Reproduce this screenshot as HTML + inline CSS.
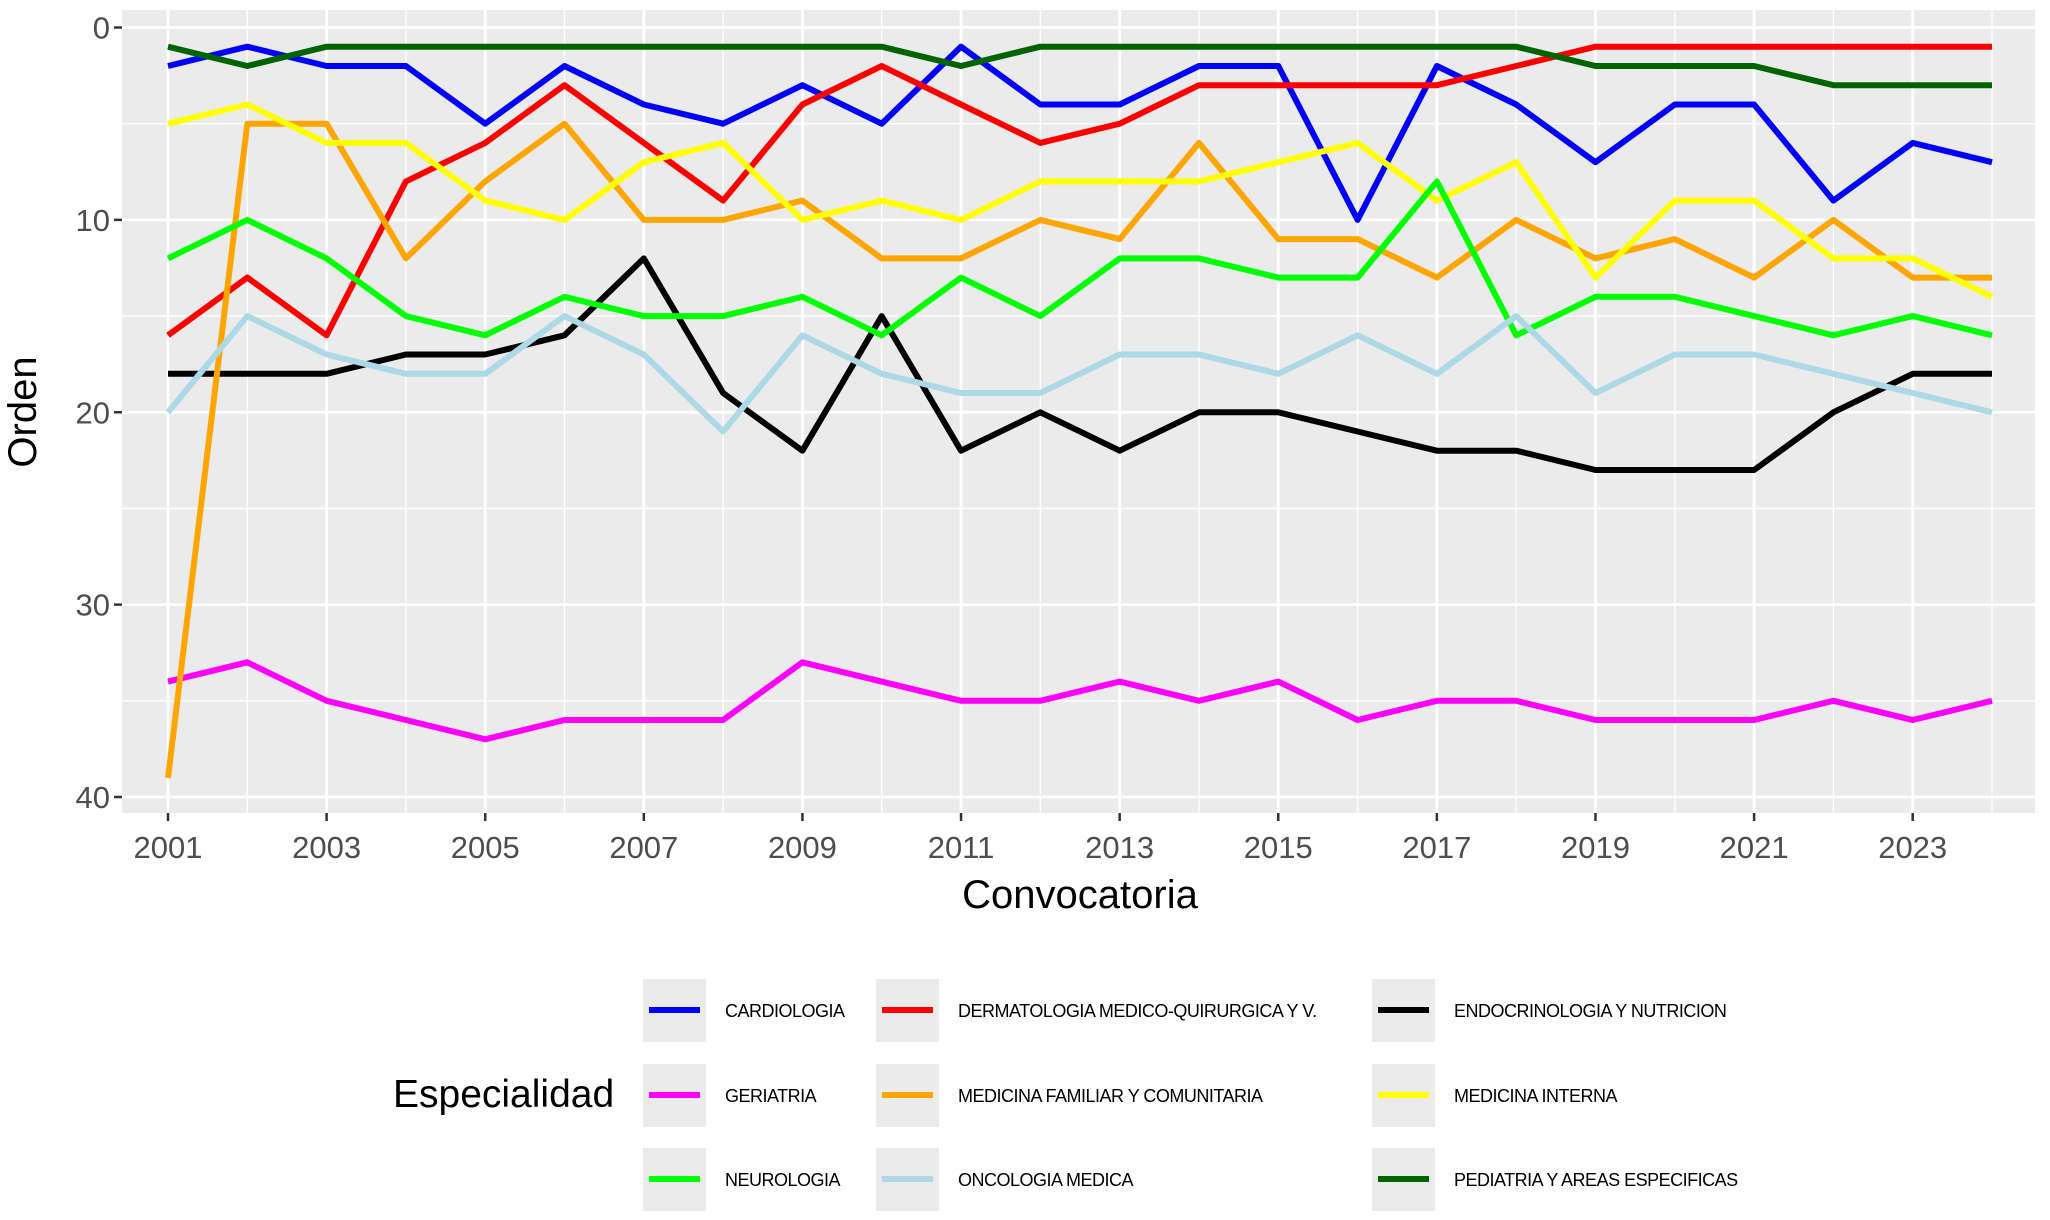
<!DOCTYPE html>
<html><head><meta charset="utf-8"><style>
body{margin:0;background:#fff;}
svg{display:block;font-family:"Liberation Sans",sans-serif;}
</style></head><body>
<svg id="chart" width="2050" height="1220" xmlns="http://www.w3.org/2000/svg">
<rect x="0" y="0" width="2050" height="1220" fill="#fff"/>
<rect x="122" y="10" width="1913" height="803" fill="#ebebeb"/>
<g id="grid"></g>
<g id="series"></g>
<g id="axes"></g>
<text x="36" y="412" transform="rotate(-90 36 412)" text-anchor="middle" font-size="40" fill="#000">Orden</text>
<text x="1080" y="908" text-anchor="middle" font-size="40" fill="#000">Convocatoria</text>
<text x="393" y="1107" font-size="39" fill="#000">Especialidad</text>
<g id="legend"></g>
</svg>
<script>
const years = [2001,2002,2003,2004,2005,2006,2007,2008,2009,2010,2011,2012,2013,2014,2015,2016,2017,2018,2019,2020,2021,2022,2023,2024];
const cardiologia = [2,1,2,2,5,2,4,5,3,5,1,4,4,2,2,10,2,4,7,4,4,9,6,7];
const dermatologia = [16,13,16,8,6,3,6,9,4,2,4,6,5,3,3,3,3,2,1,1,1,1,1,1];
const endocrinologia = [18,18,18,17,17,16,12,19,22,15,22,20,22,20,20,21,22,22,23,23,23,20,18,18];
const geriatria = [34,33,35,36,37,36,36,36,33,34,35,35,34,35,34,36,35,35,36,36,36,35,36,35];
const medFamiliar = [39,5,5,12,8,5,10,10,9,12,12,10,11,6,11,11,13,10,12,11,13,10,13,13];
const medInterna = [5,4,6,6,9,10,7,6,10,9,10,8,8,8,7,6,9,7,13,9,9,12,12,14];
const neurologia = [12,10,12,15,16,14,15,15,14,16,13,15,12,12,13,13,8,16,14,14,15,16,15,16];
const oncologia = [20,15,17,18,18,15,17,21,16,18,19,19,17,17,18,16,18,15,19,17,17,18,19,20];
const pediatria = [1,2,1,1,1,1,1,1,1,1,2,1,1,1,1,1,1,1,2,2,2,3,3,3];
const seriesNames = ["CARDIOLOGIA","DERMATOLOGIA MEDICO-QUIRURGICA Y V.","ENDOCRINOLOGIA Y NUTRICION","GERIATRIA","MEDICINA FAMILIAR Y COMUNITARIA","MEDICINA INTERNA","NEUROLOGIA","ONCOLOGIA MEDICA","PEDIATRIA Y AREAS ESPECIFICAS"];
const seriesValues = [cardiologia,dermatologia,endocrinologia,geriatria,medFamiliar,medInterna,neurologia,oncologia,pediatria];
const yTicks = [0,10,20,30,40];
const xTicks = [2001,2003,2005,2007,2009,2011,2013,2015,2017,2019,2021,2023];

const colors = ["#0000ff","#ff0000","#000000","#ff00ff","#ffa500","#ffff00","#00ff00","#add8e6","#006400"];
const NS = "http://www.w3.org/2000/svg";
const x = v => 168 + (v - 2001) * (1992 - 168) / 23;
const y = v => 27.5 + v * (797 - 27.5) / 40;
function mk(tag, attrs, parent){const e=document.createElementNS(NS,tag);for(const k in attrs)e.setAttribute(k,attrs[k]);parent.appendChild(e);return e;}
const grid=document.getElementById('grid'), axes=document.getElementById('axes'), ser=document.getElementById('series'), leg=document.getElementById('legend');
for(let v=5;v<=35;v+=10){const l=mk('line',{x1:122,x2:2035,y1:y(v),y2:y(v),stroke:'#fff','stroke-width':1.3},grid);

}
for(let v=2002;v<=2024;v+=2){const l=mk('line',{x1:x(v),x2:x(v),y1:10,y2:813,stroke:'#fff','stroke-width':1.3},grid);

}
yTicks.forEach(v=>{const l=mk('line',{x1:122,x2:2035,y1:y(v),y2:y(v),stroke:'#fff','stroke-width':2.8},grid);


const t=mk('line',{x1:114,x2:122,y1:y(v),y2:y(v),stroke:'#333','stroke-width':2.5},axes);


const tx=mk('text',{x:110,y:y(v)+11,'text-anchor':'end','font-size':31,fill:'#4d4d4d'},axes);tx.textContent=v;

});
xTicks.forEach(v=>{const l=mk('line',{x1:x(v),x2:x(v),y1:10,y2:813,stroke:'#fff','stroke-width':2.8},grid);


const t=mk('line',{x1:x(v),x2:x(v),y1:813,y2:821,stroke:'#333','stroke-width':2.5},axes);


const tx=mk('text',{x:x(v),y:858,'text-anchor':'middle','font-size':31,fill:'#4d4d4d'},axes);tx.textContent=v;

});
seriesValues.forEach((vals,i)=>{const d=vals.map((v,j)=>(j?'L':'M')+x(years[j]).toFixed(1)+','+y(v).toFixed(1)).join('');
const p=mk('path',{d:d,fill:'none',stroke:colors[i],'stroke-width':6,'stroke-linejoin':'round'},ser);

});
const colX=[643,876,1372], rowY=[1010,1095,1179];
seriesNames.forEach((n,i)=>{const cx=colX[i%3], cy=rowY[Math.floor(i/3)];
const g=mk('g',{},leg);


mk('rect',{x:cx,y:cy-31,width:63,height:63,fill:'#ebebeb'},g);
mk('line',{x1:cx+6,x2:cx+57,y1:cy,y2:cy,stroke:colors[i],'stroke-width':6},g);
const t=mk('text',{x:cx+82,y:cy+7,'font-size':18,fill:'#000','letter-spacing':'-0.5'},g);t.textContent=n;});
</script>
</body></html>
